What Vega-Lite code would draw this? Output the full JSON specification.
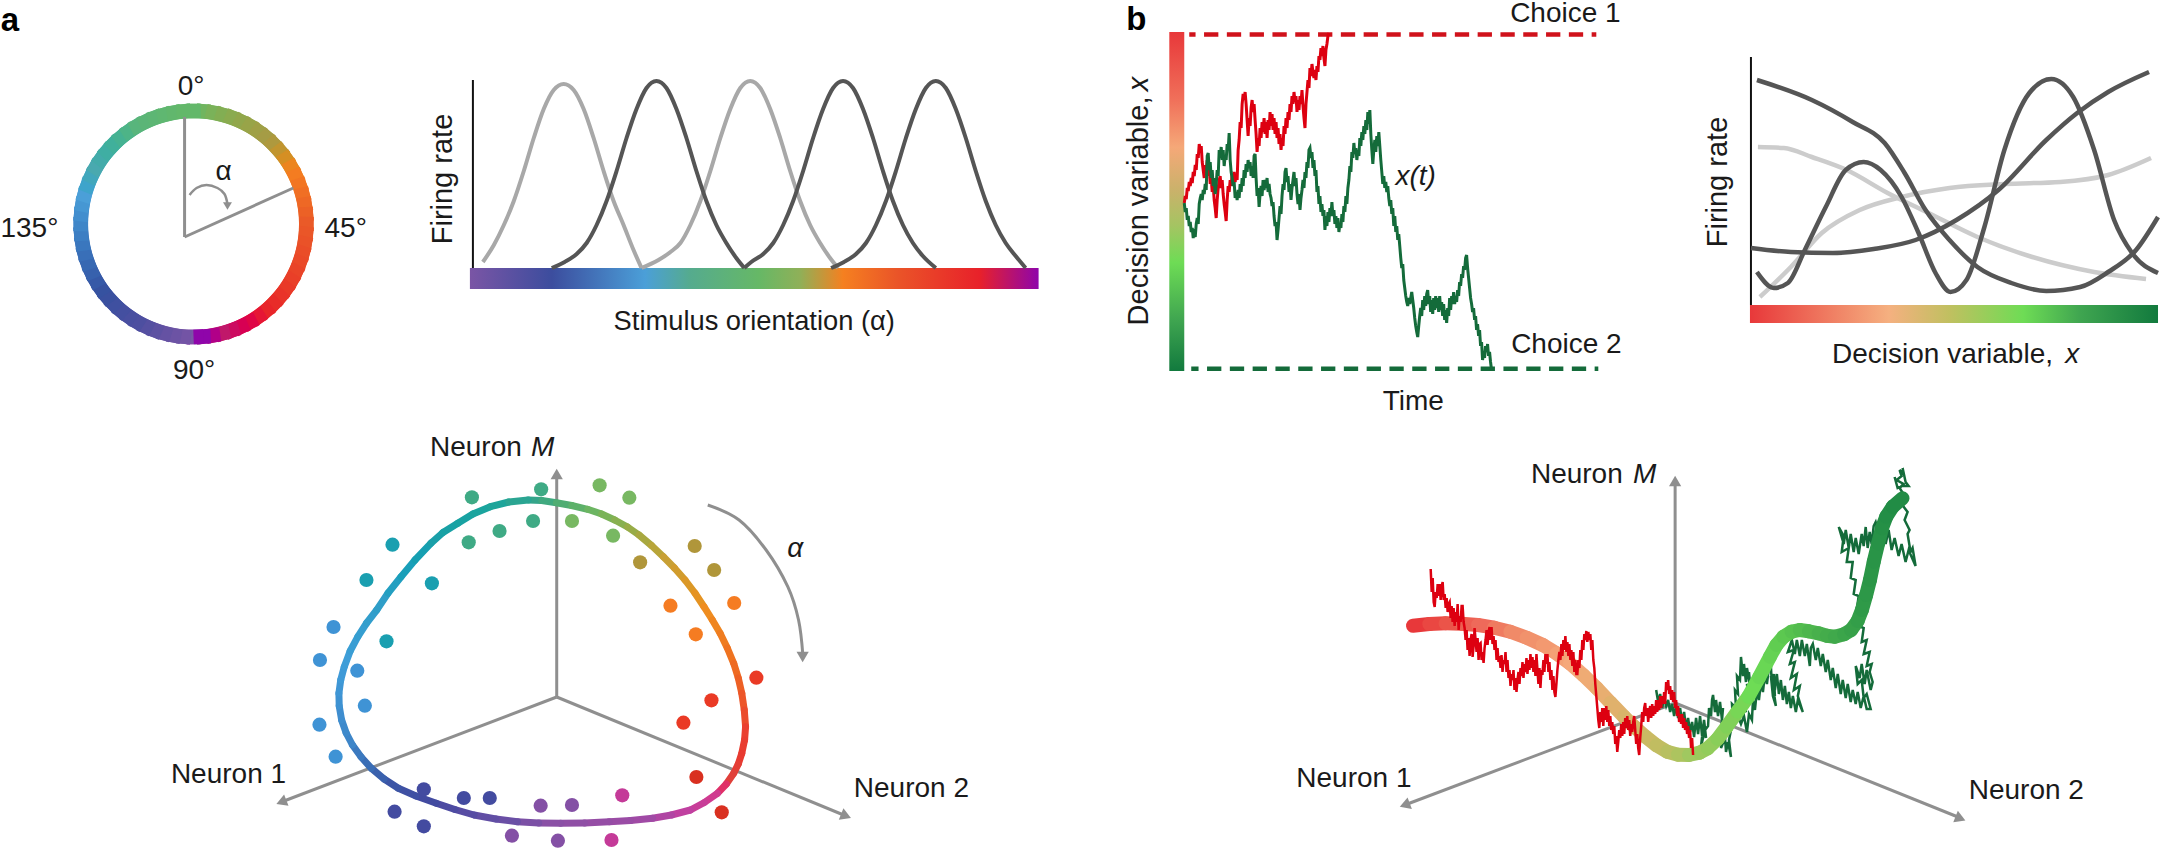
{"$schema":"https://vega.github.io/schema/vega-lite/v6.json","width":2167,"height":849,"padding":0,"autosize":{"type":"fit","contains":"padding"},"background":"white","view":{"stroke":null},
"config":{"text":{"font":"Liberation Sans","fontSize":28,"color":"#1a1a1a","baseline":"alphabetic","align":"center"}},
"datasets":{
"ring":[{"a":0,"x":194,"y":111},{"a":5,"x":203.9,"y":111.4},{"a":10,"x":213.6,"y":112.7},{"a":15,"x":223.3,"y":114.9},{"a":20,"x":232.7,"y":117.8},{"a":25,"x":241.8,"y":121.6},{"a":30,"x":250.5,"y":126.1},{"a":35,"x":258.8,"y":131.4},{"a":40,"x":266.6,"y":137.4},{"a":45,"x":273.9,"y":144.1},{"a":50,"x":280.6,"y":151.4},{"a":55,"x":286.6,"y":159.2},{"a":60,"x":291.9,"y":167.5},{"a":65,"x":296.4,"y":176.2},{"a":70,"x":300.2,"y":185.4},{"a":75,"x":303.2,"y":194.8},{"a":80,"x":305.3,"y":204.4},{"a":85,"x":306.6,"y":214.2},{"a":90,"x":307,"y":224},{"a":95,"x":306.6,"y":233.8},{"a":100,"x":305.3,"y":243.6},{"a":105,"x":303.2,"y":253.2},{"a":110,"x":300.2,"y":262.6},{"a":115,"x":296.4,"y":271.8},{"a":120,"x":291.9,"y":280.5},{"a":125,"x":286.6,"y":288.8},{"a":130,"x":280.6,"y":296.6},{"a":135,"x":273.9,"y":303.9},{"a":140,"x":266.6,"y":310.6},{"a":145,"x":258.8,"y":316.6},{"a":150,"x":250.5,"y":321.9},{"a":155,"x":241.8,"y":326.4},{"a":160,"x":232.7,"y":330.2},{"a":165,"x":223.3,"y":333.2},{"a":170,"x":213.6,"y":335.3},{"a":175,"x":203.9,"y":336.6},{"a":180,"x":194,"y":337},{"a":185,"x":184.1,"y":336.6},{"a":190,"x":174.4,"y":335.3},{"a":195,"x":164.7,"y":333.2},{"a":200,"x":155.3,"y":330.2},{"a":205,"x":146.2,"y":326.4},{"a":210,"x":137.5,"y":321.9},{"a":215,"x":129.2,"y":316.6},{"a":220,"x":121.4,"y":310.6},{"a":225,"x":114.1,"y":303.9},{"a":230,"x":107.4,"y":296.6},{"a":235,"x":101.4,"y":288.8},{"a":240,"x":96.1,"y":280.5},{"a":245,"x":91.6,"y":271.8},{"a":250,"x":87.8,"y":262.6},{"a":255,"x":84.8,"y":253.2},{"a":260,"x":82.7,"y":243.6},{"a":265,"x":81.4,"y":233.8},{"a":270,"x":81,"y":224},{"a":275,"x":81.4,"y":214.2},{"a":280,"x":82.7,"y":204.4},{"a":285,"x":84.8,"y":194.8},{"a":290,"x":87.8,"y":185.4},{"a":295,"x":91.6,"y":176.2},{"a":300,"x":96.1,"y":167.5},{"a":305,"x":101.4,"y":159.2},{"a":310,"x":107.4,"y":151.4},{"a":315,"x":114.1,"y":144.1},{"a":320,"x":121.4,"y":137.4},{"a":325,"x":129.2,"y":131.4},{"a":330,"x":137.5,"y":126.1},{"a":335,"x":146.2,"y":121.6},{"a":340,"x":155.3,"y":117.8},{"a":345,"x":164.7,"y":114.9},{"a":350,"x":174.4,"y":112.7},{"a":355,"x":184.1,"y":111.4},{"a":360,"x":194,"y":111}],
"guides":[{"x":185,"y":117,"x2":185,"y2":237},{"x":185,"y":237,"x2":294,"y2":188},{"x":558,"y":697,"x2":558,"y2":474},{"x":558,"y":697,"x2":282,"y2":802},{"x":558,"y":697,"x2":848,"y2":816},{"x":1679,"y":703,"x2":1679,"y2":481},{"x":1679,"y":703,"x2":1408,"y2":805},{"x":1679,"y":703,"x2":1965,"y2":818}],
"blackAxes":[{"x":474,"y":80,"x2":474,"y2":268},{"x":1755,"y":57,"x2":1755,"y2":305}],
"heads":[{"x":558,"y":474,"dir":0},{"x":282,"y":802,"dir":249},{"x":848,"y":816,"dir":112},{"x":1679,"y":481,"dir":0},{"x":1408,"y":805,"dir":249.5},{"x":1965,"y":818.5,"dir":112},{"x":804.5,"y":657,"dir":180}],
"smallArc":[{"x":190,"y":195},{"x":197,"y":188},{"x":207,"y":185},{"x":218,"y":188},{"x":225,"y":194},{"x":228,"y":204}],
"alphaArc":[{"x":709.4,"y":505},{"x":740.8,"y":520},{"x":767.9,"y":550},{"x":789.6,"y":586.7},{"x":800.4,"y":620},{"x":804.7,"y":655}],
"tuning":[
{"c":"A","k":"light","x":484,"y":262},{"c":"A","k":"light","x":495,"y":245},{"c":"A","k":"light","x":505,"y":225},{"c":"A","k":"light","x":515,"y":201},{"c":"A","k":"light","x":525,"y":171},{"c":"A","k":"light","x":535,"y":138},{"c":"A","k":"light","x":545,"y":109},{"c":"A","k":"light","x":555,"y":90},{"c":"A","k":"light","x":565,"y":84},{"c":"A","k":"light","x":575,"y":90},{"c":"A","k":"light","x":585,"y":109},{"c":"A","k":"light","x":595,"y":138},{"c":"A","k":"light","x":605,"y":171},{"c":"A","k":"light","x":615,"y":201},{"c":"A","k":"light","x":625,"y":225},{"c":"A","k":"light","x":635,"y":250},{"c":"A","k":"light","x":643,"y":268},
{"c":"C","k":"light","x":643,"y":268},{"c":"C","k":"light","x":660,"y":260},{"c":"C","k":"light","x":672,"y":252},{"c":"C","k":"light","x":682,"y":243},{"c":"C","k":"light","x":692,"y":225},{"c":"C","k":"light","x":702,"y":201},{"c":"C","k":"light","x":712,"y":171},{"c":"C","k":"light","x":722,"y":138},{"c":"C","k":"light","x":732,"y":109},{"c":"C","k":"light","x":742,"y":88},{"c":"C","k":"light","x":752,"y":81},{"c":"C","k":"light","x":762,"y":88},{"c":"C","k":"light","x":772,"y":109},{"c":"C","k":"light","x":782,"y":138},{"c":"C","k":"light","x":792,"y":171},{"c":"C","k":"light","x":802,"y":201},{"c":"C","k":"light","x":812,"y":225},{"c":"C","k":"light","x":822,"y":243},{"c":"C","k":"light","x":832,"y":258},{"c":"C","k":"light","x":840,"y":268},
{"c":"B","k":"dark","x":553,"y":268},{"c":"B","k":"dark","x":566,"y":262},{"c":"B","k":"dark","x":578,"y":254},{"c":"B","k":"dark","x":588,"y":243},{"c":"B","k":"dark","x":598,"y":225},{"c":"B","k":"dark","x":608,"y":201},{"c":"B","k":"dark","x":618,"y":171},{"c":"B","k":"dark","x":628,"y":138},{"c":"B","k":"dark","x":638,"y":109},{"c":"B","k":"dark","x":648,"y":88},{"c":"B","k":"dark","x":658,"y":81},{"c":"B","k":"dark","x":668,"y":88},{"c":"B","k":"dark","x":678,"y":109},{"c":"B","k":"dark","x":688,"y":138},{"c":"B","k":"dark","x":698,"y":171},{"c":"B","k":"dark","x":708,"y":201},{"c":"B","k":"dark","x":718,"y":225},{"c":"B","k":"dark","x":728,"y":243},{"c":"B","k":"dark","x":738,"y":258},{"c":"B","k":"dark","x":746,"y":268},
{"c":"D","k":"dark","x":746,"y":268},{"c":"D","k":"dark","x":753,"y":262},{"c":"D","k":"dark","x":765,"y":254},{"c":"D","k":"dark","x":775,"y":243},{"c":"D","k":"dark","x":785,"y":225},{"c":"D","k":"dark","x":795,"y":201},{"c":"D","k":"dark","x":805,"y":171},{"c":"D","k":"dark","x":815,"y":138},{"c":"D","k":"dark","x":825,"y":109},{"c":"D","k":"dark","x":835,"y":88},{"c":"D","k":"dark","x":845,"y":81},{"c":"D","k":"dark","x":855,"y":88},{"c":"D","k":"dark","x":865,"y":109},{"c":"D","k":"dark","x":875,"y":138},{"c":"D","k":"dark","x":885,"y":171},{"c":"D","k":"dark","x":895,"y":201},{"c":"D","k":"dark","x":905,"y":225},{"c":"D","k":"dark","x":915,"y":243},{"c":"D","k":"dark","x":925,"y":256},{"c":"D","k":"dark","x":938,"y":268},
{"c":"E","k":"dark","x":833,"y":268},{"c":"E","k":"dark","x":846,"y":262},{"c":"E","k":"dark","x":858,"y":254},{"c":"E","k":"dark","x":868,"y":243},{"c":"E","k":"dark","x":878,"y":225},{"c":"E","k":"dark","x":888,"y":201},{"c":"E","k":"dark","x":898,"y":171},{"c":"E","k":"dark","x":908,"y":138},{"c":"E","k":"dark","x":918,"y":109},{"c":"E","k":"dark","x":928,"y":88},{"c":"E","k":"dark","x":938,"y":81},{"c":"E","k":"dark","x":948,"y":88},{"c":"E","k":"dark","x":958,"y":109},{"c":"E","k":"dark","x":968,"y":138},{"c":"E","k":"dark","x":978,"y":171},{"c":"E","k":"dark","x":988,"y":201},{"c":"E","k":"dark","x":998,"y":225},{"c":"E","k":"dark","x":1008,"y":243},{"c":"E","k":"dark","x":1018,"y":256},{"c":"E","k":"dark","x":1028,"y":268}],
"firing":[
{"c":"D","k":"light","x":1762,"y":147},{"c":"D","k":"light","x":1788,"y":148},{"c":"D","k":"light","x":1816,"y":157},{"c":"D","k":"light","x":1851,"y":170},{"c":"D","k":"light","x":1892,"y":193},{"c":"D","k":"light","x":1933,"y":213},{"c":"D","k":"light","x":1982,"y":237},{"c":"D","k":"light","x":2037,"y":257},{"c":"D","k":"light","x":2099,"y":272},{"c":"D","k":"light","x":2151,"y":279},
{"c":"E","k":"light","x":1764,"y":297},{"c":"E","k":"light","x":1795,"y":267},{"c":"E","k":"light","x":1826,"y":233},{"c":"E","k":"light","x":1864,"y":210},{"c":"E","k":"light","x":1906,"y":197},{"c":"E","k":"light","x":1954,"y":188},{"c":"E","k":"light","x":2009,"y":184},{"c":"E","k":"light","x":2065,"y":182},{"c":"E","k":"light","x":2113,"y":175},{"c":"E","k":"light","x":2156,"y":158},
{"c":"A","k":"dark","x":1761,"y":80},{"c":"A","k":"dark","x":1816,"y":100},{"c":"A","k":"dark","x":1857,"y":122},{"c":"A","k":"dark","x":1889,"y":143},{"c":"A","k":"dark","x":1909,"y":173},{"c":"A","k":"dark","x":1930,"y":210},{"c":"A","k":"dark","x":1954,"y":240},{"c":"A","k":"dark","x":1982,"y":267},{"c":"A","k":"dark","x":2016,"y":283},{"c":"A","k":"dark","x":2051,"y":291},{"c":"A","k":"dark","x":2085,"y":287},{"c":"A","k":"dark","x":2113,"y":272},{"c":"A","k":"dark","x":2141,"y":250},{"c":"A","k":"dark","x":2163,"y":217},
{"c":"B","k":"dark","x":1755,"y":248},{"c":"B","k":"dark","x":1795,"y":252},{"c":"B","k":"dark","x":1837,"y":253},{"c":"B","k":"dark","x":1878,"y":249},{"c":"B","k":"dark","x":1920,"y":240},{"c":"B","k":"dark","x":1961,"y":220},{"c":"B","k":"dark","x":2003,"y":190},{"c":"B","k":"dark","x":2051,"y":140},{"c":"B","k":"dark","x":2082,"y":113},{"c":"B","k":"dark","x":2113,"y":92},{"c":"B","k":"dark","x":2154,"y":72},
{"c":"C","k":"dark","x":1761,"y":272},{"c":"C","k":"dark","x":1778,"y":288},{"c":"C","k":"dark","x":1792,"y":283},{"c":"C","k":"dark","x":1809,"y":250},{"c":"C","k":"dark","x":1830,"y":207},{"c":"C","k":"dark","x":1850,"y":170},{"c":"C","k":"dark","x":1868,"y":162},{"c":"C","k":"dark","x":1885,"y":170},{"c":"C","k":"dark","x":1906,"y":197},{"c":"C","k":"dark","x":1923,"y":233},{"c":"C","k":"dark","x":1940,"y":273},{"c":"C","k":"dark","x":1955,"y":292},{"c":"C","k":"dark","x":1971,"y":280},{"c":"C","k":"dark","x":1989,"y":227},{"c":"C","k":"dark","x":2009,"y":150},{"c":"C","k":"dark","x":2034,"y":93},{"c":"C","k":"dark","x":2056,"y":79},{"c":"C","k":"dark","x":2078,"y":97},{"c":"C","k":"dark","x":2099,"y":150},{"c":"C","k":"dark","x":2119,"y":220},{"c":"C","k":"dark","x":2137,"y":253},{"c":"C","k":"dark","x":2163,"y":273}],
"loop":[{"x":529.4,"y":500},{"x":543,"y":500.5},{"x":557.6,"y":502.7},{"x":573,"y":505.5},{"x":589,"y":509.3},{"x":603,"y":514},{"x":616.1,"y":520},{"x":629,"y":527},{"x":640.5,"y":535},{"x":653,"y":545.5},{"x":664.9,"y":556.7},{"x":676,"y":568},{"x":686.6,"y":580},{"x":696.5,"y":593},{"x":705.6,"y":606.7},{"x":714,"y":620},{"x":721.8,"y":633.3},{"x":729,"y":648},{"x":735.4,"y":663.3},{"x":740,"y":678},{"x":743.5,"y":693.3},{"x":746,"y":710},{"x":747.3,"y":726.7},{"x":746.3,"y":740},{"x":743.5,"y":753.3},{"x":740,"y":764},{"x":735.4,"y":773.3},{"x":728,"y":784},{"x":719.1,"y":793.3},{"x":706,"y":802.5},{"x":692,"y":810},{"x":673,"y":815},{"x":654.1,"y":818.3},{"x":632,"y":820.5},{"x":610.7,"y":821.7},{"x":586,"y":823},{"x":561.9,"y":823.3},{"x":540,"y":823},{"x":518.6,"y":821.7},{"x":497,"y":819},{"x":475.2,"y":815},{"x":456,"y":809.5},{"x":437.3,"y":803.3},{"x":417,"y":796},{"x":399.3,"y":788.3},{"x":385,"y":779},{"x":372.2,"y":768.3},{"x":362,"y":757},{"x":353.3,"y":745},{"x":347,"y":733},{"x":342.4,"y":720},{"x":340,"y":706},{"x":339.7,"y":693.3},{"x":341.5,"y":680},{"x":345.1,"y":666.7},{"x":351,"y":651},{"x":358.7,"y":636.7},{"x":367.5,"y":623},{"x":377.6,"y":610},{"x":389,"y":593},{"x":402,"y":576.7},{"x":416,"y":560},{"x":431.8,"y":543.3},{"x":444,"y":532.5},{"x":458.9,"y":523.3},{"x":474,"y":514},{"x":491.5,"y":506.7},{"x":510,"y":502},{"x":529.4,"y":500}],
"dots":[{"x":473,"y":497.3,"g":"a"},{"x":542.4,"y":489.3,"g":"a"},{"x":534.3,"y":521,"g":"a"},{"x":500.7,"y":531,"g":"a"},{"x":469.8,"y":542.3,"g":"a"},{"x":601,"y":485.3,"g":"b"},{"x":630.8,"y":497.7,"g":"b"},{"x":573.3,"y":521,"g":"b"},{"x":614.5,"y":535.7,"g":"b"},{"x":393.4,"y":544.7,"g":"c"},{"x":367.3,"y":580,"g":"c"},{"x":432.9,"y":583.3,"g":"c"},{"x":387.4,"y":641.3,"g":"c"},{"x":334.3,"y":627,"g":"d"},{"x":320.7,"y":660,"g":"d"},{"x":358.1,"y":670.7,"g":"d"},{"x":365.7,"y":705.7,"g":"d"},{"x":320.2,"y":724.7,"g":"d"},{"x":336.4,"y":756.7,"g":"d"},{"x":696.3,"y":546,"g":"e"},{"x":715.8,"y":570,"g":"e"},{"x":641.6,"y":562.3,"g":"e"},{"x":735.9,"y":603,"g":"f"},{"x":672,"y":605.7,"g":"f"},{"x":697.4,"y":634.3,"g":"f"},{"x":758.1,"y":677.7,"g":"h"},{"x":713.1,"y":700.3,"g":"h"},{"x":685,"y":722.7,"g":"h"},{"x":698,"y":777,"g":"i"},{"x":723.4,"y":812.3,"g":"i"},{"x":623.7,"y":795.3,"g":"j"},{"x":612.9,"y":840,"g":"j"},{"x":541.9,"y":805.7,"g":"k"},{"x":573.3,"y":805,"g":"k"},{"x":513.1,"y":835.7,"g":"k"},{"x":559.2,"y":840.7,"g":"k"},{"x":464.9,"y":798,"g":"l"},{"x":490.9,"y":798,"g":"l"},{"x":424.8,"y":789.3,"g":"l"},{"x":395.5,"y":811.7,"g":"l"},{"x":424.8,"y":826.3,"g":"l"}],
"thick":[{"x":1416.3,"y":625.7},{"x":1432.6,"y":624},{"x":1448.9,"y":623.3},{"x":1465.1,"y":623.7},{"x":1481.4,"y":625},{"x":1497.6,"y":627.7},{"x":1513.9,"y":631.7},{"x":1530.2,"y":637.7},{"x":1546.4,"y":645},{"x":1560,"y":653.3},{"x":1573.5,"y":663.3},{"x":1587.1,"y":675.3},{"x":1600.6,"y":688.3},{"x":1614.2,"y":702.7},{"x":1627.7,"y":716.7},{"x":1638.6,"y":727.3},{"x":1649.4,"y":736.7},{"x":1660.2,"y":745.3},{"x":1671.1,"y":751.7},{"x":1681.9,"y":754.7},{"x":1692.8,"y":755},{"x":1703.6,"y":752.7},{"x":1711.7,"y":748.3},{"x":1721.5,"y":739},{"x":1730.7,"y":726.7},{"x":1741.5,"y":711.7},{"x":1752.4,"y":696.7},{"x":1763.2,"y":677.3},{"x":1774.1,"y":656.7},{"x":1780.6,"y":645},{"x":1787.6,"y":636.7},{"x":1795.7,"y":631.7},{"x":1803.9,"y":630},{"x":1813.1,"y":631.3},{"x":1822.8,"y":633.3},{"x":1831,"y":635.7},{"x":1839.1,"y":636.7},{"x":1848.3,"y":634.3},{"x":1855.4,"y":630},{"x":1861.9,"y":621},{"x":1866.2,"y":610},{"x":1870.5,"y":595},{"x":1874.3,"y":580},{"x":1878.1,"y":561.7},{"x":1882.5,"y":543.3},{"x":1886.3,"y":528.3},{"x":1890.6,"y":516.7},{"x":1897.1,"y":506.7},{"x":1906.9,"y":498.3}],
"redTop":[{"x":1187,"y":203},{"x":1188,"y":196},{"x":1189,"y":199},{"x":1190,"y":188},{"x":1191,"y":191},{"x":1192,"y":182},{"x":1193,"y":186},{"x":1194,"y":178},{"x":1195,"y":183},{"x":1196,"y":172},{"x":1197,"y":176},{"x":1198,"y":165},{"x":1199,"y":170},{"x":1200,"y":154},{"x":1201,"y":158},{"x":1202,"y":144},{"x":1203,"y":150},{"x":1204,"y":146},{"x":1205,"y":162},{"x":1206,"y":170},{"x":1207,"y":178},{"x":1208,"y":165},{"x":1209,"y":172},{"x":1210,"y":160},{"x":1211,"y":176},{"x":1212,"y":168},{"x":1213,"y":184},{"x":1214,"y":178},{"x":1215,"y":192},{"x":1216,"y":186},{"x":1217,"y":200},{"x":1218,"y":208},{"x":1219,"y":218},{"x":1220,"y":200},{"x":1221,"y":188},{"x":1222,"y":180},{"x":1223,"y":176},{"x":1224,"y":188},{"x":1225,"y":180},{"x":1226,"y":194},{"x":1227,"y":204},{"x":1228,"y":212},{"x":1229,"y":221},{"x":1230,"y":200},{"x":1231,"y":186},{"x":1232,"y":192},{"x":1233,"y":180},{"x":1234,"y":186},{"x":1235,"y":174},{"x":1236,"y":180},{"x":1237,"y":172},{"x":1238,"y":182},{"x":1239,"y":174},{"x":1240,"y":180},{"x":1241,"y":150},{"x":1242,"y":140},{"x":1243,"y":122},{"x":1244,"y":128},{"x":1245,"y":104},{"x":1246,"y":94},{"x":1247,"y":100},{"x":1248,"y":92},{"x":1249,"y":104},{"x":1250,"y":120},{"x":1251,"y":136},{"x":1252,"y":118},{"x":1253,"y":126},{"x":1254,"y":108},{"x":1255,"y":100},{"x":1256,"y":112},{"x":1257,"y":104},{"x":1258,"y":120},{"x":1259,"y":134},{"x":1260,"y":152},{"x":1261,"y":138},{"x":1262,"y":146},{"x":1263,"y":128},{"x":1264,"y":138},{"x":1265,"y":122},{"x":1266,"y":132},{"x":1267,"y":118},{"x":1268,"y":134},{"x":1269,"y":122},{"x":1270,"y":138},{"x":1271,"y":120},{"x":1272,"y":130},{"x":1273,"y":112},{"x":1274,"y":126},{"x":1275,"y":114},{"x":1276,"y":130},{"x":1277,"y":118},{"x":1278,"y":134},{"x":1279,"y":122},{"x":1280,"y":138},{"x":1281,"y":128},{"x":1282,"y":144},{"x":1283,"y":134},{"x":1284,"y":150},{"x":1285,"y":138},{"x":1286,"y":146},{"x":1287,"y":126},{"x":1288,"y":134},{"x":1289,"y":118},{"x":1290,"y":128},{"x":1291,"y":112},{"x":1292,"y":120},{"x":1293,"y":104},{"x":1294,"y":112},{"x":1295,"y":96},{"x":1296,"y":104},{"x":1297,"y":92},{"x":1298,"y":102},{"x":1299,"y":96},{"x":1300,"y":112},{"x":1301,"y":100},{"x":1302,"y":110},{"x":1303,"y":96},{"x":1304,"y":104},{"x":1305,"y":90},{"x":1306,"y":106},{"x":1307,"y":118},{"x":1308,"y":128},{"x":1309,"y":104},{"x":1310,"y":92},{"x":1311,"y":80},{"x":1312,"y":88},{"x":1313,"y":68},{"x":1314,"y":76},{"x":1315,"y":64},{"x":1316,"y":72},{"x":1317,"y":78},{"x":1318,"y":70},{"x":1319,"y":80},{"x":1320,"y":66},{"x":1321,"y":72},{"x":1322,"y":56},{"x":1323,"y":60},{"x":1324,"y":48},{"x":1325,"y":56},{"x":1326,"y":46},{"x":1327,"y":58},{"x":1328,"y":66},{"x":1329,"y":50},{"x":1330,"y":44},{"x":1331,"y":36},{"x":1332,"y":33}],
"greenTop":[{"x":1187,"y":203},{"x":1188,"y":212},{"x":1189,"y":208},{"x":1190,"y":220},{"x":1191,"y":216},{"x":1192,"y":226},{"x":1193,"y":222},{"x":1194,"y":232},{"x":1195,"y":228},{"x":1196,"y":238},{"x":1197,"y":234},{"x":1198,"y":237},{"x":1199,"y":224},{"x":1200,"y":218},{"x":1201,"y":224},{"x":1202,"y":204},{"x":1203,"y":198},{"x":1204,"y":194},{"x":1205,"y":200},{"x":1206,"y":190},{"x":1207,"y":194},{"x":1208,"y":184},{"x":1209,"y":190},{"x":1210,"y":156},{"x":1211,"y":153},{"x":1212,"y":170},{"x":1213,"y":162},{"x":1214,"y":178},{"x":1215,"y":170},{"x":1216,"y":186},{"x":1217,"y":178},{"x":1218,"y":194},{"x":1219,"y":184},{"x":1220,"y":170},{"x":1221,"y":176},{"x":1222,"y":150},{"x":1223,"y":158},{"x":1224,"y":147},{"x":1225,"y":160},{"x":1226,"y":150},{"x":1227,"y":166},{"x":1228,"y":156},{"x":1229,"y":160},{"x":1230,"y":144},{"x":1231,"y":150},{"x":1232,"y":133},{"x":1233,"y":160},{"x":1234,"y":172},{"x":1235,"y":178},{"x":1236,"y":186},{"x":1237,"y":182},{"x":1238,"y":198},{"x":1239,"y":192},{"x":1240,"y":200},{"x":1241,"y":190},{"x":1242,"y":198},{"x":1243,"y":184},{"x":1244,"y":192},{"x":1245,"y":178},{"x":1246,"y":186},{"x":1247,"y":170},{"x":1248,"y":178},{"x":1249,"y":164},{"x":1250,"y":172},{"x":1251,"y":160},{"x":1252,"y":168},{"x":1253,"y":162},{"x":1254,"y":176},{"x":1255,"y":166},{"x":1256,"y":178},{"x":1257,"y":156},{"x":1258,"y":154},{"x":1259,"y":178},{"x":1260,"y":196},{"x":1261,"y":188},{"x":1262,"y":207},{"x":1263,"y":194},{"x":1264,"y":186},{"x":1265,"y":196},{"x":1266,"y":180},{"x":1267,"y":190},{"x":1268,"y":180},{"x":1269,"y":188},{"x":1270,"y":178},{"x":1271,"y":192},{"x":1272,"y":184},{"x":1273,"y":194},{"x":1274,"y":198},{"x":1275,"y":206},{"x":1276,"y":202},{"x":1277,"y":216},{"x":1278,"y":226},{"x":1279,"y":222},{"x":1280,"y":240},{"x":1281,"y":230},{"x":1282,"y":218},{"x":1283,"y":206},{"x":1284,"y":214},{"x":1285,"y":196},{"x":1286,"y":184},{"x":1287,"y":190},{"x":1288,"y":172},{"x":1289,"y":168},{"x":1290,"y":182},{"x":1291,"y":176},{"x":1292,"y":192},{"x":1293,"y":184},{"x":1294,"y":200},{"x":1295,"y":188},{"x":1296,"y":180},{"x":1297,"y":172},{"x":1298,"y":186},{"x":1299,"y":178},{"x":1300,"y":194},{"x":1301,"y":204},{"x":1302,"y":194},{"x":1303,"y":210},{"x":1304,"y":198},{"x":1305,"y":190},{"x":1306,"y":180},{"x":1307,"y":188},{"x":1308,"y":172},{"x":1309,"y":178},{"x":1310,"y":162},{"x":1311,"y":168},{"x":1312,"y":150},{"x":1313,"y":148},{"x":1314,"y":158},{"x":1315,"y":152},{"x":1316,"y":168},{"x":1317,"y":160},{"x":1318,"y":176},{"x":1319,"y":170},{"x":1320,"y":192},{"x":1321,"y":186},{"x":1322,"y":204},{"x":1323,"y":196},{"x":1324,"y":212},{"x":1325,"y":204},{"x":1326,"y":216},{"x":1327,"y":210},{"x":1328,"y":230},{"x":1329,"y":216},{"x":1330,"y":226},{"x":1331,"y":212},{"x":1332,"y":222},{"x":1333,"y":208},{"x":1334,"y":216},{"x":1335,"y":202},{"x":1336,"y":216},{"x":1337,"y":210},{"x":1338,"y":224},{"x":1339,"y":216},{"x":1340,"y":228},{"x":1341,"y":218},{"x":1342,"y":232},{"x":1343,"y":224},{"x":1344,"y":228},{"x":1345,"y":214},{"x":1346,"y":222},{"x":1347,"y":206},{"x":1348,"y":212},{"x":1349,"y":196},{"x":1350,"y":204},{"x":1351,"y":188},{"x":1352,"y":180},{"x":1353,"y":166},{"x":1354,"y":172},{"x":1355,"y":152},{"x":1356,"y":158},{"x":1357,"y":143},{"x":1358,"y":154},{"x":1359,"y":148},{"x":1360,"y":160},{"x":1361,"y":150},{"x":1362,"y":156},{"x":1363,"y":138},{"x":1364,"y":146},{"x":1365,"y":132},{"x":1366,"y":140},{"x":1367,"y":126},{"x":1368,"y":134},{"x":1369,"y":120},{"x":1370,"y":130},{"x":1371,"y":112},{"x":1372,"y":124},{"x":1373,"y":110},{"x":1374,"y":134},{"x":1375,"y":150},{"x":1376,"y":164},{"x":1377,"y":150},{"x":1378,"y":140},{"x":1379,"y":152},{"x":1380,"y":136},{"x":1381,"y":146},{"x":1382,"y":132},{"x":1383,"y":146},{"x":1384,"y":160},{"x":1385,"y":172},{"x":1386,"y":184},{"x":1387,"y":176},{"x":1388,"y":188},{"x":1389,"y":182},{"x":1390,"y":192},{"x":1391,"y":186},{"x":1392,"y":198},{"x":1393,"y":206},{"x":1394,"y":200},{"x":1395,"y":214},{"x":1396,"y":208},{"x":1397,"y":226},{"x":1398,"y":216},{"x":1399,"y":232},{"x":1400,"y":226},{"x":1401,"y":240},{"x":1402,"y":234},{"x":1403,"y":246},{"x":1404,"y":258},{"x":1405,"y":268},{"x":1406,"y":264},{"x":1407,"y":280},{"x":1408,"y":288},{"x":1409,"y":296},{"x":1410,"y":302},{"x":1411,"y":306},{"x":1412,"y":298},{"x":1413,"y":304},{"x":1414,"y":298},{"x":1415,"y":292},{"x":1416,"y":300},{"x":1417,"y":308},{"x":1418,"y":318},{"x":1419,"y":326},{"x":1420,"y":332},{"x":1421,"y":337},{"x":1422,"y":326},{"x":1423,"y":316},{"x":1424,"y":308},{"x":1425,"y":316},{"x":1426,"y":300},{"x":1427,"y":310},{"x":1428,"y":296},{"x":1429,"y":306},{"x":1430,"y":294},{"x":1431,"y":290},{"x":1432,"y":304},{"x":1433,"y":296},{"x":1434,"y":312},{"x":1435,"y":300},{"x":1436,"y":314},{"x":1437,"y":298},{"x":1438,"y":310},{"x":1439,"y":296},{"x":1440,"y":308},{"x":1441,"y":298},{"x":1442,"y":312},{"x":1443,"y":296},{"x":1444,"y":310},{"x":1445,"y":302},{"x":1446,"y":316},{"x":1447,"y":304},{"x":1448,"y":320},{"x":1449,"y":310},{"x":1450,"y":323},{"x":1451,"y":308},{"x":1452,"y":316},{"x":1453,"y":298},{"x":1454,"y":310},{"x":1455,"y":296},{"x":1456,"y":304},{"x":1457,"y":292},{"x":1458,"y":304},{"x":1459,"y":296},{"x":1460,"y":302},{"x":1461,"y":290},{"x":1462,"y":296},{"x":1463,"y":282},{"x":1464,"y":286},{"x":1465,"y":274},{"x":1466,"y":278},{"x":1467,"y":266},{"x":1468,"y":270},{"x":1469,"y":258},{"x":1470,"y":255},{"x":1471,"y":268},{"x":1472,"y":278},{"x":1473,"y":288},{"x":1474,"y":298},{"x":1475,"y":304},{"x":1476,"y":312},{"x":1477,"y":308},{"x":1478,"y":320},{"x":1479,"y":316},{"x":1480,"y":330},{"x":1481,"y":324},{"x":1482,"y":336},{"x":1483,"y":330},{"x":1484,"y":346},{"x":1485,"y":342},{"x":1486,"y":360},{"x":1487,"y":352},{"x":1488,"y":358},{"x":1489,"y":346},{"x":1490,"y":352},{"x":1491,"y":344},{"x":1492,"y":356},{"x":1493,"y":352},{"x":1494,"y":362},{"x":1495,"y":370}],
"redBottom":[{"x":1434,"y":569},{"x":1435,"y":592},{"x":1436,"y":578},{"x":1437,"y":602},{"x":1438,"y":607},{"x":1439,"y":592},{"x":1440,"y":598},{"x":1441,"y":584},{"x":1442,"y":596},{"x":1443,"y":584},{"x":1444,"y":600},{"x":1445,"y":586},{"x":1446,"y":582},{"x":1447,"y":600},{"x":1448,"y":594},{"x":1449,"y":608},{"x":1450,"y":598},{"x":1451,"y":612},{"x":1452,"y":604},{"x":1453,"y":602},{"x":1454,"y":618},{"x":1455,"y":606},{"x":1456,"y":622},{"x":1457,"y":608},{"x":1458,"y":626},{"x":1459,"y":612},{"x":1460,"y":622},{"x":1461,"y":604},{"x":1462,"y":630},{"x":1463,"y":616},{"x":1464,"y":622},{"x":1465,"y":606},{"x":1466,"y":606},{"x":1467,"y":622},{"x":1468,"y":628},{"x":1469,"y":640},{"x":1470,"y":630},{"x":1471,"y":650},{"x":1472,"y":638},{"x":1473,"y":656},{"x":1474,"y":640},{"x":1475,"y":634},{"x":1476,"y":657},{"x":1477,"y":646},{"x":1478,"y":628},{"x":1479,"y":640},{"x":1480,"y":652},{"x":1481,"y":638},{"x":1482,"y":660},{"x":1483,"y":644},{"x":1484,"y":643},{"x":1485,"y":660},{"x":1486,"y":652},{"x":1487,"y":663},{"x":1488,"y":648},{"x":1489,"y":640},{"x":1490,"y":630},{"x":1491,"y":645},{"x":1492,"y":632},{"x":1493,"y":627},{"x":1494,"y":640},{"x":1495,"y":627},{"x":1496,"y":644},{"x":1497,"y":636},{"x":1498,"y":650},{"x":1499,"y":640},{"x":1500,"y":660},{"x":1501,"y":648},{"x":1502,"y":662},{"x":1503,"y":656},{"x":1504,"y":668},{"x":1505,"y":655},{"x":1506,"y":672},{"x":1507,"y":660},{"x":1508,"y":664},{"x":1509,"y":652},{"x":1510,"y":672},{"x":1511,"y":660},{"x":1512,"y":678},{"x":1513,"y":670},{"x":1514,"y":686},{"x":1515,"y":674},{"x":1516,"y":680},{"x":1517,"y":670},{"x":1518,"y":690},{"x":1519,"y":678},{"x":1520,"y":692},{"x":1521,"y":680},{"x":1522,"y":672},{"x":1523,"y":684},{"x":1524,"y":668},{"x":1525,"y":676},{"x":1526,"y":662},{"x":1527,"y":678},{"x":1528,"y":664},{"x":1529,"y":672},{"x":1530,"y":658},{"x":1531,"y":674},{"x":1532,"y":660},{"x":1533,"y":670},{"x":1534,"y":654},{"x":1535,"y":668},{"x":1536,"y":657},{"x":1537,"y":672},{"x":1538,"y":660},{"x":1539,"y":676},{"x":1540,"y":654},{"x":1541,"y":670},{"x":1542,"y":684},{"x":1543,"y":668},{"x":1544,"y":688},{"x":1545,"y":670},{"x":1546,"y":675},{"x":1547,"y":660},{"x":1548,"y":672},{"x":1549,"y":654},{"x":1550,"y":664},{"x":1551,"y":654},{"x":1552,"y":672},{"x":1553,"y":662},{"x":1554,"y":680},{"x":1555,"y":670},{"x":1556,"y":690},{"x":1557,"y":676},{"x":1558,"y":692},{"x":1559,"y":697},{"x":1560,"y":684},{"x":1561,"y":670},{"x":1562,"y":660},{"x":1563,"y":652},{"x":1564,"y":660},{"x":1565,"y":644},{"x":1566,"y":656},{"x":1567,"y":640},{"x":1568,"y":650},{"x":1569,"y":636},{"x":1570,"y":652},{"x":1571,"y":642},{"x":1572,"y":656},{"x":1573,"y":644},{"x":1574,"y":660},{"x":1575,"y":650},{"x":1576,"y":666},{"x":1577,"y":652},{"x":1578,"y":672},{"x":1579,"y":660},{"x":1580,"y":674},{"x":1581,"y":674},{"x":1582,"y":660},{"x":1583,"y":668},{"x":1584,"y":650},{"x":1585,"y":660},{"x":1586,"y":640},{"x":1587,"y":650},{"x":1588,"y":634},{"x":1589,"y":640},{"x":1590,"y":631},{"x":1591,"y":642},{"x":1592,"y":632},{"x":1593,"y":640},{"x":1594,"y":634},{"x":1595,"y":650},{"x":1596,"y":640},{"x":1597,"y":660},{"x":1598,"y":668},{"x":1599,"y":684},{"x":1600,"y":696},{"x":1601,"y":708},{"x":1602,"y":720},{"x":1603,"y":728},{"x":1604,"y":712},{"x":1605,"y":722},{"x":1606,"y":708},{"x":1607,"y":726},{"x":1608,"y":708},{"x":1609,"y":720},{"x":1610,"y":706},{"x":1611,"y":722},{"x":1612,"y":710},{"x":1613,"y":726},{"x":1614,"y":716},{"x":1615,"y":730},{"x":1616,"y":722},{"x":1617,"y":734},{"x":1618,"y":726},{"x":1619,"y":744},{"x":1620,"y":736},{"x":1621,"y":752},{"x":1622,"y":742},{"x":1623,"y":730},{"x":1624,"y":738},{"x":1625,"y":724},{"x":1626,"y":736},{"x":1627,"y":722},{"x":1628,"y":734},{"x":1629,"y":718},{"x":1630,"y":728},{"x":1631,"y":716},{"x":1632,"y":730},{"x":1633,"y":720},{"x":1634,"y":736},{"x":1635,"y":724},{"x":1636,"y":732},{"x":1637,"y":722},{"x":1638,"y":716},{"x":1639,"y":730},{"x":1640,"y":744},{"x":1641,"y":734},{"x":1642,"y":748},{"x":1643,"y":755},{"x":1644,"y":738},{"x":1645,"y":726},{"x":1646,"y":712},{"x":1647,"y":722},{"x":1648,"y":708},{"x":1649,"y":703},{"x":1650,"y":716},{"x":1651,"y":708},{"x":1652,"y":722},{"x":1653,"y":712},{"x":1654,"y":706},{"x":1655,"y":718},{"x":1656,"y":704},{"x":1657,"y":716},{"x":1658,"y":706},{"x":1659,"y":714},{"x":1660,"y":700},{"x":1661,"y":712},{"x":1662,"y":700},{"x":1663,"y":710},{"x":1664,"y":696},{"x":1665,"y":708},{"x":1666,"y":696},{"x":1667,"y":704},{"x":1668,"y":692},{"x":1669,"y":704},{"x":1670,"y":682},{"x":1671,"y":690},{"x":1672,"y":680},{"x":1673,"y":694},{"x":1674,"y":686},{"x":1675,"y":700},{"x":1676,"y":690},{"x":1677,"y":702},{"x":1678,"y":692},{"x":1679,"y":708},{"x":1680,"y":700},{"x":1681,"y":716},{"x":1682,"y":706},{"x":1683,"y":722},{"x":1684,"y":714},{"x":1685,"y":724},{"x":1686,"y":714},{"x":1687,"y":728},{"x":1688,"y":718},{"x":1689,"y":730},{"x":1690,"y":722},{"x":1691,"y":734},{"x":1692,"y":726},{"x":1693,"y":738},{"x":1694,"y":730},{"x":1695,"y":748},{"x":1696,"y":738},{"x":1697,"y":755}],
"greenBottom":[{"x":1660,"y":690},{"x":1662,"y":702},{"x":1664,"y":694},{"x":1666,"y":708},{"x":1668,"y":698},{"x":1670,"y":706},{"x":1672,"y":700},{"x":1674,"y":712},{"x":1676,"y":704},{"x":1678,"y":716},{"x":1680,"y":706},{"x":1682,"y":718},{"x":1684,"y":708},{"x":1686,"y":722},{"x":1688,"y":712},{"x":1690,"y":728},{"x":1692,"y":718},{"x":1694,"y":732},{"x":1696,"y":722},{"x":1698,"y":737},{"x":1700,"y":718},{"x":1702,"y":734},{"x":1704,"y":716},{"x":1706,"y":736},{"x":1708,"y":720},{"x":1710,"y":738},{"x":1707,"y":728},{"x":1705,"y":746},{"x":1709,"y":730},{"x":1712,"y":726},{"x":1713,"y":708},{"x":1715,"y":716},{"x":1716,"y":700},{"x":1717,"y":695},{"x":1719,"y":712},{"x":1720,"y":700},{"x":1722,"y":716},{"x":1724,"y":702},{"x":1726,"y":720},{"x":1727,"y":708},{"x":1725,"y":732},{"x":1727,"y":722},{"x":1723,"y":742},{"x":1726,"y":734},{"x":1725,"y":748},{"x":1729,"y":738},{"x":1730,"y":752},{"x":1732,"y":742},{"x":1735,"y":757},{"x":1733,"y":740},{"x":1735,"y":730},{"x":1731,"y":734},{"x":1734,"y":718},{"x":1737,"y":722},{"x":1736,"y":704},{"x":1740,"y":708},{"x":1739,"y":690},{"x":1742,"y":694},{"x":1741,"y":676},{"x":1744,"y":680},{"x":1745,"y":657},{"x":1747,"y":676},{"x":1748,"y":664},{"x":1750,"y":682},{"x":1751,"y":668},{"x":1754,"y":686},{"x":1753,"y":672},{"x":1755,"y":692},{"x":1751,"y":684},{"x":1753,"y":704},{"x":1749,"y":696},{"x":1750,"y":712},{"x":1745,"y":704},{"x":1747,"y":716},{"x":1741,"y":714},{"x":1745,"y":724},{"x":1748,"y":716},{"x":1751,"y":732},{"x":1753,"y":714},{"x":1756,"y":720},{"x":1757,"y":700},{"x":1759,"y":710},{"x":1761,"y":690},{"x":1763,"y":700},{"x":1765,"y":682},{"x":1767,"y":692},{"x":1769,"y":674},{"x":1771,"y":684},{"x":1773,"y":668},{"x":1775,"y":666},{"x":1776,"y":686},{"x":1778,"y":674},{"x":1779,"y":696},{"x":1777,"y":686},{"x":1780,"y":706},{"x":1777,"y":696},{"x":1775,"y":676},{"x":1779,"y":690},{"x":1781,"y":674},{"x":1783,"y":694},{"x":1785,"y":680},{"x":1787,"y":700},{"x":1789,"y":686},{"x":1791,"y":704},{"x":1793,"y":692},{"x":1795,"y":708},{"x":1797,"y":696},{"x":1800,"y":712},{"x":1802,"y":700},{"x":1807,"y":712},{"x":1802,"y":696},{"x":1804,"y":686},{"x":1798,"y":690},{"x":1801,"y":674},{"x":1795,"y":678},{"x":1799,"y":662},{"x":1794,"y":664},{"x":1798,"y":650},{"x":1792,"y":652},{"x":1796,"y":640},{"x":1799,"y":654},{"x":1801,"y":640},{"x":1804,"y":656},{"x":1806,"y":640},{"x":1809,"y":656},{"x":1811,"y":644},{"x":1814,"y":666},{"x":1815,"y":648},{"x":1817,"y":644},{"x":1820,"y":660},{"x":1822,"y":648},{"x":1825,"y":666},{"x":1827,"y":654},{"x":1830,"y":672},{"x":1832,"y":660},{"x":1835,"y":680},{"x":1837,"y":668},{"x":1840,"y":688},{"x":1842,"y":674},{"x":1845,"y":694},{"x":1847,"y":680},{"x":1850,"y":698},{"x":1852,"y":684},{"x":1855,"y":702},{"x":1857,"y":690},{"x":1860,"y":704},{"x":1862,"y":692},{"x":1865,"y":708},{"x":1868,"y":696},{"x":1871,"y":709},{"x":1875,"y":709},{"x":1871,"y":694},{"x":1868,"y":698},{"x":1866,"y":680},{"x":1862,"y":684},{"x":1860,"y":666},{"x":1864,"y":678},{"x":1866,"y":664},{"x":1869,"y":684},{"x":1871,"y":670},{"x":1875,"y":690},{"x":1877,"y":682},{"x":1874,"y":672},{"x":1876,"y":664},{"x":1871,"y":666},{"x":1874,"y":652},{"x":1868,"y":654},{"x":1871,"y":640},{"x":1866,"y":642},{"x":1868,"y":628},{"x":1863,"y":626},{"x":1866,"y":612},{"x":1861,"y":610},{"x":1863,"y":596},{"x":1858,"y":594},{"x":1860,"y":580},{"x":1855,"y":578},{"x":1857,"y":562},{"x":1851,"y":562},{"x":1853,"y":548},{"x":1846,"y":552},{"x":1848,"y":536},{"x":1843,"y":527},{"x":1848,"y":544},{"x":1850,"y":530},{"x":1853,"y":548},{"x":1855,"y":534},{"x":1858,"y":552},{"x":1860,"y":538},{"x":1863,"y":554},{"x":1866,"y":534},{"x":1868,"y":546},{"x":1870,"y":527},{"x":1872,"y":548},{"x":1874,"y":532},{"x":1876,"y":544},{"x":1878,"y":526},{"x":1880,"y":522},{"x":1884,"y":538},{"x":1887,"y":526},{"x":1890,"y":544},{"x":1893,"y":530},{"x":1896,"y":550},{"x":1899,"y":538},{"x":1903,"y":556},{"x":1906,"y":544},{"x":1910,"y":562},{"x":1913,"y":550},{"x":1920,"y":566},{"x":1917,"y":548},{"x":1915,"y":552},{"x":1912,"y":534},{"x":1914,"y":530},{"x":1909,"y":520},{"x":1912,"y":512},{"x":1906,"y":504},{"x":1909,"y":496},{"x":1904,"y":488},{"x":1908,"y":484},{"x":1901,"y":480},{"x":1906,"y":476},{"x":1904,"y":470},{"x":1908,"y":474},{"x":1907,"y":468},{"x":1910,"y":482},{"x":1913,"y":486},{"x":1906,"y":486},{"x":1902,"y":488},{"x":1899,"y":477}],
"labels":[{"x":191.5,"y":95,"t":"0°"},{"x":346.5,"y":237,"t":"45°"},{"x":194.5,"y":379,"t":"90°"},{"x":29.5,"y":237,"t":"135°"},{"x":224,"y":180,"t":"α"},{"x":1569,"y":22,"t":"Choice 1"},{"x":1570,"y":353,"t":"Choice 2"},{"x":1416.5,"y":410,"t":"Time"},{"x":1947,"y":363,"t":"Decision variable,"},{"x":477,"y":456,"t":"Neuron"},{"x":229,"y":783,"t":"Neuron 1"},{"x":913.5,"y":797,"t":"Neuron 2"},{"x":1580.5,"y":483,"t":"Neuron"},{"x":1357,"y":787,"t":"Neuron 1"},{"x":2031,"y":799,"t":"Neuron 2"}],
"stimulus":[{"x":756,"y":330,"t":"Stimulus orientation (α)"}],
"italics":[{"x":544,"y":456,"t":"M"},{"x":1648.5,"y":483,"t":"M"},{"x":797,"y":557,"t":"α"},{"x":1419,"y":185,"t":"x(t)"},{"x":2077,"y":363,"t":"x"}],
"panels":[{"x":10,"y":31,"t":"a"},{"x":1139,"y":30,"t":"b"}],
"rotated":[{"x":453,"y":179,"t":"Firing rate"},{"x":1731,"y":182,"t":"Firing rate"},{"x":1151,"y":211,"t":"Decision variable,"}],
"rotatedItalic":[{"x":1151,"y":84,"t":"x"}]
},
"encoding":{"x":{"field":"x","type":"quantitative","axis":null,"scale":{"domain":[0,2167],"nice":false,"zero":false}},"y":{"field":"y","type":"quantitative","axis":null,"scale":{"domain":[849,0],"nice":false,"zero":false}}},
"resolve":{"scale":{"color":"independent"}},
"layer":[
{"data":{"values":[{"x":471,"x2":1041,"y":268,"y2":289}]},"mark":{"type":"rect","fill":{"gradient":"linear","x1":0,"y1":0,"x2":1,"y2":0,"stops":[{"offset":0,"color":"#7a55a5"},{"offset":0.144,"color":"#3c4d9e"},{"offset":0.308,"color":"#4b9fd8"},{"offset":0.387,"color":"#55ab8e"},{"offset":0.508,"color":"#66b866"},{"offset":0.58,"color":"#8fb058"},{"offset":0.656,"color":"#f58020"},{"offset":0.75,"color":"#ea5528"},{"offset":0.896,"color":"#e8212a"},{"offset":0.96,"color":"#b0107a"},{"offset":1,"color":"#8f05aa"}]}},"encoding":{"x2":{"field":"x2"},"y2":{"field":"y2"}}},
{"data":{"values":[{"x":1172,"x2":1187,"y":32,"y2":371}]},"mark":{"type":"rect","fill":{"gradient":"linear","x1":0,"y1":0,"x2":0,"y2":1,"stops":[{"offset":0,"color":"#e8383a"},{"offset":0.2,"color":"#f0705a"},{"offset":0.34,"color":"#f5a878"},{"offset":0.47,"color":"#c9b26a"},{"offset":0.57,"color":"#a5c462"},{"offset":0.68,"color":"#6edc55"},{"offset":0.85,"color":"#3fa550"},{"offset":1,"color":"#127a3e"}]}},"encoding":{"x2":{"field":"x2"},"y2":{"field":"y2"}}},
{"data":{"values":[{"x":1754,"x2":2163,"y":305,"y2":323}]},"mark":{"type":"rect","fill":{"gradient":"linear","x1":0,"y1":0,"x2":1,"y2":0,"stops":[{"offset":0,"color":"#e8383a"},{"offset":0.34,"color":"#f5b080"},{"offset":0.49,"color":"#c0c060"},{"offset":0.67,"color":"#6edc55"},{"offset":0.81,"color":"#3fa550"},{"offset":1,"color":"#127a3e"}]}},"encoding":{"x2":{"field":"x2"},"y2":{"field":"y2"}}},
{"data":{"name":"ring"},"transform":[{"window":[{"op":"lead","field":"x","as":"x2"},{"op":"lead","field":"y","as":"y2"}]},{"filter":"datum.x2 != null"}],"mark":{"type":"rule","strokeWidth":14.5,"strokeCap":"square"},"encoding":{"x2":{"field":"x2"},"y2":{"field":"y2"},"color":{"field":"a","type":"quantitative","legend":null,"scale":{"domain":[0,43,62,90,142,165,175,180,210,234,270,285,299,331,360],"range":["#66b866","#a89a45","#f58020","#ea5a28","#e8212a","#c0186a","#8f05aa","#7a55a5","#4d4fa0","#36509f","#3f86c8","#4b9fd8","#4ba8b0","#5ab57a","#66b866"]}}}},
{"data":{"name":"ring"},"transform":[{"window":[{"op":"lead","field":"x","as":"x2"},{"op":"lead","field":"y","as":"y2"}]},{"filter":"datum.a == 175"}],"mark":{"type":"rule","strokeWidth":14.5,"strokeCap":"butt","color":"#8f05aa"},"encoding":{"x2":{"field":"x2"},"y2":{"field":"y2"}}},
{"data":{"name":"guides"},"mark":{"type":"rule","strokeWidth":3,"color":"#8f8f8f"},"encoding":{"x2":{"field":"x2"},"y2":{"field":"y2"}}},
{"data":{"name":"blackAxes"},"mark":{"type":"rule","strokeWidth":2,"color":"#111111"},"encoding":{"x2":{"field":"x2"},"y2":{"field":"y2"}}},
{"data":{"name":"heads"},"mark":{"type":"point","shape":"triangle-up","filled":true,"opacity":1,"color":"#8f8f8f","size":150},"encoding":{"angle":{"field":"dir","type":"quantitative","scale":{"domain":[0,360],"range":[0,360]}}}},
{"data":{"values":[{"x":228,"y":206}]},"mark":{"type":"point","shape":"triangle-down","filled":true,"opacity":1,"color":"#8f8f8f","size":80}},
{"data":{"name":"smallArc"},"transform":[{"window":[{"op":"row_number","as":"i"}]}],"mark":{"type":"line","strokeWidth":2.5,"color":"#8f8f8f","interpolate":"cardinal"},"encoding":{"order":{"field":"i"}}},
{"data":{"name":"alphaArc"},"transform":[{"window":[{"op":"row_number","as":"i"}]}],"mark":{"type":"line","strokeWidth":3,"color":"#8f8f8f","interpolate":"cardinal"},"encoding":{"order":{"field":"i"}}},
{"data":{"name":"tuning"},"mark":{"type":"line","strokeWidth":4,"interpolate":"monotone"},"encoding":{"detail":{"field":"c"},"color":{"field":"k","type":"nominal","legend":null,"scale":{"domain":["light","dark"],"range":["#a8a8a8","#555555"]}}}},
{"data":{"values":[{"x":1192,"x2":1600,"y":34.5,"y2":34.5}]},"mark":{"type":"rule","strokeWidth":4.5,"strokeDash":[14.3,8.5],"strokeDashOffset":8,"color":"#d0121b"},"encoding":{"x2":{"field":"x2"},"y2":{"field":"y2"}}},
{"data":{"values":[{"x":1194,"x2":1602,"y":368.7,"y2":368.7}]},"mark":{"type":"rule","strokeWidth":4.5,"strokeDash":[14.3,8.5],"strokeDashOffset":7,"color":"#146b3a"},"encoding":{"x2":{"field":"x2"},"y2":{"field":"y2"}}},
{"data":{"name":"redTop"},"transform":[{"window":[{"op":"row_number","as":"i"}]}],"mark":{"type":"line","strokeWidth":3,"color":"#dd0010"},"encoding":{"order":{"field":"i"}}},
{"data":{"name":"greenTop"},"transform":[{"window":[{"op":"row_number","as":"i"}]}],"mark":{"type":"line","strokeWidth":3,"color":"#146b3a"},"encoding":{"order":{"field":"i"}}},
{"data":{"name":"firing"},"mark":{"type":"line","strokeWidth":4.5,"interpolate":"monotone"},"encoding":{"detail":{"field":"c"},"color":{"field":"k","type":"nominal","legend":null,"scale":{"domain":["light","dark"],"range":["#cccccc","#555555"]}}}},
{"data":{"name":"loop"},"transform":[{"window":[{"op":"row_number","as":"i"},{"op":"lead","field":"x","as":"x2"},{"op":"lead","field":"y","as":"y2"}]},{"filter":"datum.x2 != null"}],"mark":{"type":"rule","strokeWidth":7,"strokeCap":"round"},"encoding":{"x2":{"field":"x2"},"y2":{"field":"y2"},"color":{"field":"i","type":"quantitative","legend":null,"scale":{"domain":[1,3,5,7,9,11,15,19,23,25,27,29,31,33,37,39,43,45,47,49,53,55,59,63,67,69],"range":["#35a58a","#50ad72","#6cb562","#88b050","#a8a840","#c8a035","#ef8d20","#ee6a22","#ea4030","#e83a30","#e0403a","#d03a90","#c040a0","#a04aa5","#8a50a5","#6a4fa5","#424aa0","#3c55a5","#3a6db5","#3d85c8","#3f96d5","#3f9ed8","#2f9ec8","#1a9fa8","#1ea59a","#35a58a"]}}}},
{"data":{"name":"dots"},"mark":{"type":"circle","size":201,"opacity":1},"encoding":{"color":{"field":"g","type":"nominal","legend":null,"scale":{"domain":["a","b","c","d","e","f","h","i","j","k","l"],"range":["#3faa85","#78b862","#1a9fb0","#3f93d5","#b0963a","#f57c22","#ea3a25","#d93020","#c43a98","#8450a5","#434ba0"]}}}},
{"data":{"name":"greenBottom"},"transform":[{"window":[{"op":"row_number","as":"i"}]}],"mark":{"type":"line","strokeWidth":2.5,"color":"#146b3a"},"encoding":{"order":{"field":"i"}}},
{"data":{"name":"thick"},"transform":[{"window":[{"op":"row_number","as":"i"},{"op":"lead","field":"x","as":"x2"},{"op":"lead","field":"y","as":"y2"}]},{"filter":"datum.x2 != null"}],"mark":{"type":"rule","strokeWidth":14,"strokeCap":"round"},"encoding":{"x2":{"field":"x2"},"y2":{"field":"y2"},"color":{"field":"i","type":"quantitative","legend":null,"scale":{"domain":[1,5,7,11,15,19,21,25,27,31,35,41,49],"range":["#e8383a","#ee6a5a","#f08a68","#f5a87a","#d8b46a","#b8c060","#a0c860","#80d058","#6edc55","#5cc850","#48b04c","#2f9a48","#1f8a45"]}}}},
{"data":{"name":"redBottom"},"transform":[{"window":[{"op":"row_number","as":"i"}]}],"mark":{"type":"line","strokeWidth":2.5,"color":"#dd0010"},"encoding":{"order":{"field":"i"}}},
{"data":{"name":"labels"},"mark":{"type":"text"},"encoding":{"text":{"field":"t"}}},
{"data":{"name":"stimulus"},"mark":{"type":"text","fontSize":27.3},"encoding":{"text":{"field":"t"}}},
{"data":{"name":"italics"},"mark":{"type":"text","fontStyle":"italic"},"encoding":{"text":{"field":"t"}}},
{"data":{"name":"panels"},"mark":{"type":"text","fontWeight":"bold","fontSize":33,"color":"#000000"},"encoding":{"text":{"field":"t"}}},
{"data":{"name":"rotated"},"mark":{"type":"text","angle":270,"fontSize":29},"encoding":{"text":{"field":"t"}}},
{"data":{"name":"rotatedItalic"},"mark":{"type":"text","angle":270,"fontStyle":"italic","fontSize":29},"encoding":{"text":{"field":"t"}}}
]}
